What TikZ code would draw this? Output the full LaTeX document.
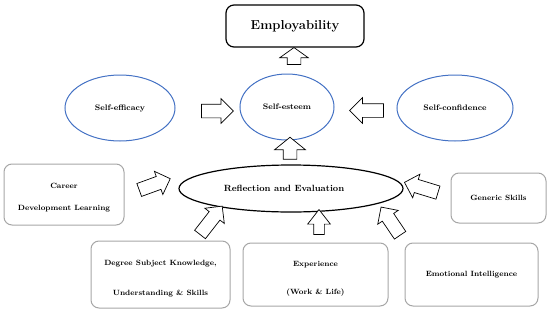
\documentclass[tikz,border=0pt]{standalone}
\usetikzlibrary{shapes.geometric,shapes.arrows}
\definecolor{eblue}{HTML}{4472C4}
\definecolor{boxgray}{HTML}{A6A6A6}
\begin{document}
\begin{tikzpicture}[x=1pt,y=-1pt,
  blueell/.style={ellipse, draw=eblue, line width=1pt, inner sep=0pt,
    font=\fontsize{8}{9}\selectfont\bfseries},
  graybox/.style={draw=boxgray, line width=1pt, rounded corners=8pt, inner sep=0pt,
    align=center, font=\fontsize{7.6}{9}\selectfont\bfseries},
  blockarrow/.style={single arrow, draw=black, line width=0.7pt, inner xsep=0pt,
    inner ysep=6.5pt, fill=white, single arrow head extend=5.5pt,
    single arrow tip angle=90}
]
\useasboundingbox (0,0) rectangle (550,311);

% main nodes
\node[draw=black, line width=1.2pt, rounded corners=8pt, minimum width=138pt,
  minimum height=42pt, inner sep=0pt, font=\fontsize{13}{15}\selectfont\bfseries]
  (emp) at (295,26) {Employability};

\node[blueell, minimum width=110pt, minimum height=66pt] (sef) at (120,108) {Self-efficacy};
\node[blueell, minimum width=94pt, minimum height=66pt] (ses) at (287,107) {Self-esteem};
\node[blueell, minimum width=116pt, minimum height=66pt] (scf) at (455,108) {Self-confidence};

\node[ellipse, draw=black, line width=1.2pt, inner sep=0pt, minimum width=224pt,
  minimum height=47pt, font=\fontsize{9}{11}\selectfont\bfseries]
  (ref) at (291,188.5) {Reflection and Evaluation\hspace*{14pt}};

\node[graybox, minimum width=120pt, minimum height=61pt] (car) at (64,194.5)
  {\rule{0pt}{12pt}Career\\[13pt]Development Learning};
\node[graybox, minimum width=95pt, minimum height=50pt] (gen) at (498.5,198)
  {Generic Skills};
\node[graybox, minimum width=139pt, minimum height=67pt] (deg) at (160.5,274.5)
  {\rule{0pt}{14pt}Degree Subject Knowledge,\\[21pt]Understanding \& Skills};
\node[graybox, minimum width=145pt, minimum height=63pt] (exp) at (315.5,274.5)
  {\rule{0pt}{13pt}Experience\\[19pt](Work \& Life)};
\node[graybox, minimum width=133pt, minimum height=63pt] (emo) at (471.5,274.5)
  {Emotional Intelligence};

% block arrows
\node[blockarrow, minimum height=17pt, single arrow head extend=7.5pt,
  single arrow tip angle=109, rotate=90] (a1) at (294,58.5) {};
\node[blockarrow, minimum height=32pt] (a2) at (214,111) {};
\node[blockarrow, minimum height=34pt, single arrow head extend=6pt,
  rotate=180] (a3) at (370,110.5) {};
\node[blockarrow, minimum height=22pt, single arrow head extend=8.5pt,
  single arrow tip angle=102, rotate=90] (a4) at (290,151) {};
\node[blockarrow, minimum height=33pt, rotate=20] (a5) at (151.5,185.5) {};
\node[blockarrow, minimum height=35pt, rotate=163] (a6) at (424.5,188.5) {};
\node[blockarrow, minimum height=36pt, rotate=52] (a7) at (209,223) {};
\node[blockarrow, minimum height=25pt, inner ysep=5pt, single arrow head extend=6pt,
  single arrow tip angle=76, rotate=90] (a8) at (319,225.5) {};
\node[blockarrow, minimum height=34pt, rotate=124] (a9) at (392.5,224) {};
\end{tikzpicture}
\end{document}
